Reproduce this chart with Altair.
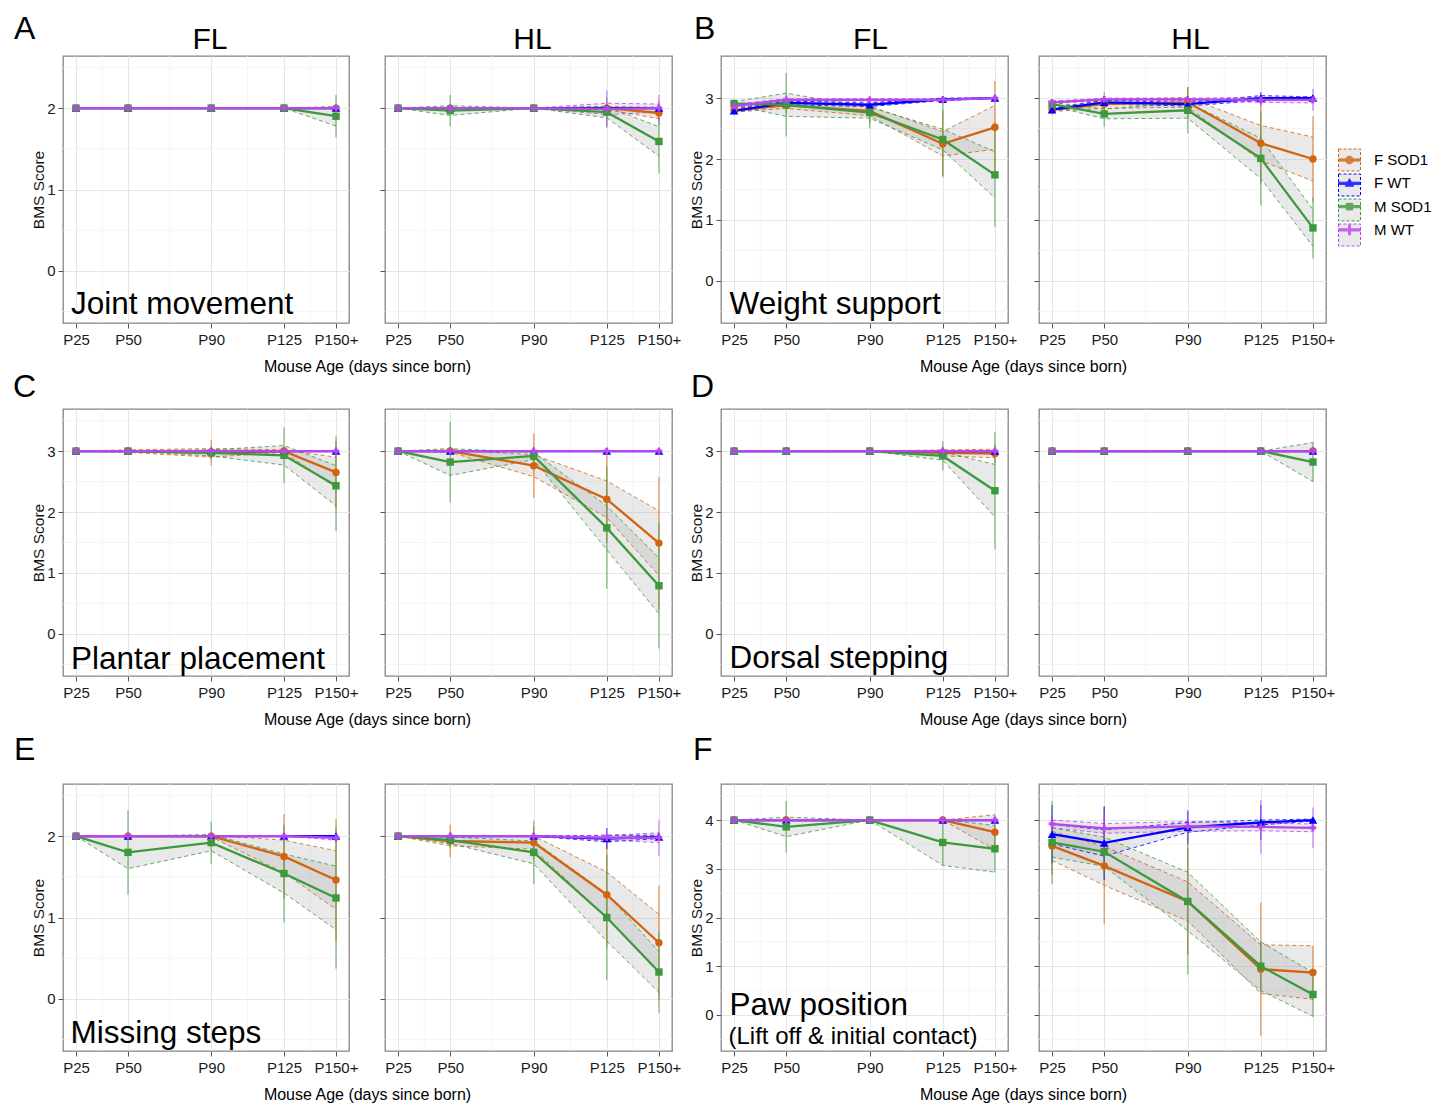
import altair as alt
import pandas as pd

FONT = "Liberation Sans"
DAYS = [25, 50, 90, 125, 150]
DAY_LABELS = ["P25", "P50", "P90", "P125", "P150+"]
X_MINOR = [37.5, 70, 107.5, 137.5]
X_DOM = [18.75, 156.25]
GROUPS = ["F SOD1", "F WT", "M SOD1", "M WT"]
GROUP_KEYS = ["a", "b", "c", "d"]
COLORS = ["#D2640F", "#0000FF", "#3C9A3C", "#B845F0"]
POINT_SHAPES = ["circle", "triangle-up", "square", "cross"]
POINT_SIZES = [55, 75, 55, 45]

# rows: F SOD1, F WT, M SOD1, M WT ; columns: P25, P50, P90, P125, P150+
MEAN_A_FL = [[2, 2, 2, 2, 2], [2, 2, 2, 2, 2], [2, 2, 2, 2, 1.90], [2, 2, 2, 2, 2]]
SE_A_FL = [[0, 0, 0, 0, 0], [0, 0, 0, 0, 0], [0, 0, 0, 0, 0.12], [0, 0, 0, 0, 0]]
SD_A_FL = [[0, 0, 0, 0, 0], [0, 0, 0, 0, 0], [0, 0, 0, 0, 0.26], [0, 0, 0, 0, 0]]

MEAN_A_HL = [[2, 2, 2, 2, 1.94], [2, 2, 2, 2, 2], [2, 1.97, 2, 1.95, 1.59], [2, 2, 2, 1.99, 2]]
SE_A_HL = [[0, 0, 0, 0.02, 0.07], [0, 0, 0, 0, 0], [0, 0.06, 0, 0.07, 0.18], [0, 0, 0, 0.07, 0.05]]
SD_A_HL = [[0, 0, 0, 0.05, 0.15], [0, 0, 0, 0, 0], [0, 0.19, 0, 0.18, 0.39], [0, 0, 0, 0.23, 0.16]]

MEAN_B_FL = [[2.80, 2.88, 2.79, 2.25, 2.52], [2.79, 2.92, 2.89, 2.98, 3.0], [2.91, 2.89, 2.76, 2.32, 1.74], [2.87, 2.97, 2.97, 2.97, 3.0]]
SE_B_FL = [[0.03, 0.05, 0.08, 0.2, 0.36], [0.02, 0.03, 0.03, 0.02, 0], [0.03, 0.19, 0.09, 0.17, 0.38], [0.03, 0.02, 0.02, 0.02, 0]]
SD_B_FL = [[0.08, 0.12, 0.2, 0.55, 0.76], [0.05, 0.08, 0.1, 0.05, 0], [0.07, 0.52, 0.26, 0.6, 0.86], [0.08, 0.05, 0.05, 0.05, 0]]

MEAN_B_HL = [[2.81, 2.90, 2.93, 2.26, 2.0], [2.81, 2.93, 2.90, 3.0, 3.0], [2.90, 2.74, 2.80, 2.01, 0.87], [2.93, 2.98, 2.98, 2.97, 2.97]]
SE_B_HL = [[0.03, 0.07, 0.08, 0.29, 0.36], [0.02, 0.03, 0.03, 0.04, 0.02], [0.03, 0.08, 0.13, 0.33, 0.3], [0.02, 0.02, 0.02, 0.04, 0.05]]
SD_B_HL = [[0.08, 0.2, 0.25, 0.66, 0.7], [0.05, 0.08, 0.08, 0.1, 0.05], [0.08, 0.21, 0.38, 0.77, 0.5], [0.05, 0.05, 0.05, 0.1, 0.18]]

MEAN_C_FL = [[3, 3, 2.97, 3.0, 2.65], [3, 3, 3, 3, 3], [3, 3, 2.97, 2.93, 2.43], [3, 3, 3, 3, 3]]
SE_C_FL = [[0, 0.02, 0.07, 0.02, 0.25], [0, 0, 0, 0, 0], [0, 0, 0.05, 0.16, 0.33], [0, 0, 0, 0, 0]]
SD_C_FL = [[0, 0.05, 0.21, 0.05, 0.6], [0, 0, 0, 0, 0], [0, 0, 0.1, 0.46, 0.74], [0, 0, 0, 0, 0]]

MEAN_C_HL = [[3, 3, 2.76, 2.21, 1.49], [3, 3, 3, 3, 3], [3, 2.82, 2.92, 1.74, 0.79], [3, 3, 3, 3, 3]]
SE_C_HL = [[0, 0.02, 0.18, 0.3, 0.53], [0, 0, 0, 0, 0], [0, 0.22, 0.06, 0.36, 0.46], [0, 0, 0, 0, 0]]
SD_C_HL = [[0, 0.05, 0.53, 0.72, 1.09], [0, 0, 0, 0, 0], [0, 0.66, 0.15, 1.0, 1.03], [0, 0, 0, 0, 0]]

MEAN_D_FL = [[3, 3, 3, 2.97, 2.96], [3, 3, 3, 3, 3], [3, 3, 3, 2.92, 2.35], [3, 3, 3, 3, 3]]
SE_D_FL = [[0, 0, 0, 0.05, 0.07], [0, 0, 0, 0, 0], [0, 0, 0, 0.07, 0.43], [0, 0, 0, 0, 0]]
SD_D_FL = [[0, 0, 0, 0.1, 0.15], [0, 0, 0, 0, 0], [0, 0, 0, 0.24, 0.96], [0, 0, 0, 0, 0]]

MEAN_D_HL = [[3, 3, 3, 3, 3], [3, 3, 3, 3, 3], [3, 3, 3, 3, 2.82], [3, 3, 3, 3, 3]]
SE_D_HL = [[0, 0, 0, 0, 0], [0, 0, 0, 0, 0], [0, 0, 0, 0, 0.32], [0, 0, 0, 0, 0]]
SD_D_HL = [[0, 0, 0, 0, 0], [0, 0, 0, 0, 0], [0, 0, 0, 0, 0.32], [0, 0, 0, 0, 0]]

MEAN_E_FL = [[2, 2, 2, 1.75, 1.46], [2, 2, 2, 2, 2], [2, 1.80, 1.92, 1.54, 1.24], [2, 2, 2, 2, 1.98]]
SE_E_FL = [[0, 0, 0.01, 0.2, 0.36], [0, 0, 0, 0, 0], [0, 0.2, 0.1, 0.24, 0.39], [0, 0, 0, 0, 0.03]]
SD_E_FL = [[0, 0, 0.02, 0.52, 0.75], [0, 0, 0, 0, 0], [0, 0.52, 0.26, 0.6, 0.87], [0, 0, 0, 0, 0.06]]

MEAN_E_HL = [[2, 1.94, 1.92, 1.28, 0.69], [2, 2, 2, 1.97, 1.99], [2, 1.95, 1.80, 1.0, 0.33], [2, 2, 2, 1.98, 1.98]]
SE_E_HL = [[0, 0.06, 0.08, 0.28, 0.35], [0, 0, 0, 0.04, 0.02], [0, 0.04, 0.14, 0.29, 0.25], [0, 0, 0, 0.03, 0.06]]
SD_E_HL = [[0, 0.2, 0.2, 0.65, 0.7], [0, 0, 0, 0.13, 0.05], [0, 0.1, 0.39, 0.77, 0.5], [0, 0, 0, 0.08, 0.22]]

MEAN_F_FL = [[4, 4, 4, 4, 3.75], [4, 4, 4, 4, 4], [4, 3.86, 4, 3.54, 3.41], [4, 4, 4, 4, 4]]
SE_F_FL = [[0, 0, 0, 0, 0.36], [0, 0, 0, 0, 0], [0, 0.2, 0, 0.47, 0.48], [0, 0, 0, 0, 0]]
SD_F_FL = [[0, 0, 0, 0, 0.36], [0, 0, 0, 0, 0], [0, 0.53, 0, 0.47, 0.48], [0, 0, 0, 0, 0]]

MEAN_F_HL = [[3.47, 3.06, 2.33, 0.94, 0.87], [3.71, 3.53, 3.85, 3.95, 4.0], [3.54, 3.35, 2.33, 1.0, 0.42], [3.92, 3.83, 3.87, 3.86, 3.84]]
SE_F_HL = [[0.3, 0.4, 0.4, 0.5, 0.55], [0.2, 0.27, 0.1, 0.05, 0.02], [0.3, 0.3, 0.6, 0.5, 0.45], [0.08, 0.1, 0.1, 0.08, 0.08]]
SD_F_HL = [[0.6, 1.2, 1.1, 1.37, 0.55], [0.6, 0.76, 0.35, 0.36, 0.05], [0.85, 0.5, 1.5, 0.5, 0.45], [0.2, 0.3, 0.3, 0.55, 0.42]]

Y_DOM_2 = [-0.64, 2.64]
Y_DOM_3 = [-0.69, 3.69]
Y_DOM_4 = [-0.74, 4.74]
Y_TICKS_2 = [0, 1, 2]
Y_TICKS_3 = [0, 1, 2, 3]
Y_TICKS_4 = [0, 1, 2, 3, 4]
Y_MINOR_2 = [-0.5, 0.5, 1.5, 2.5]
Y_MINOR_3 = [-0.5, 0.5, 1.5, 2.5, 3.5]
Y_MINOR_4 = [-0.5, 0.5, 1.5, 2.5, 3.5, 4.5]

# legend symbols: line through + marker (unit square, filled)
BAR = "M-1,-0.1L1,-0.1L1,0.1L-1,0.1Z"
LEGEND_PATHS = [
    BAR + "M-0.35,0A0.35,0.35,0,1,1,0.35,0A0.35,0.35,0,1,1,-0.35,0Z",
    BAR + "M0,-0.42L0.38,0.26L-0.38,0.26Z",
    BAR + "M-0.3,-0.3L0.3,-0.3L0.3,0.3L-0.3,0.3Z",
    BAR + "M-0.09,-0.45L0.09,-0.45L0.09,0.45L-0.09,0.45Z",
]

W_FL, W_HL, H = 286, 287, 267
GAPS = [36, 49, 31]
ROW_GAPS = [86, 108]
LEG_X, LEG_Y = 1275, 92.5

LABEL_EXPR = " : ".join(f"datum.value == {d} ? '{l}'" for d, l in zip(DAYS, DAY_LABELS)) + " : ''"


def build_df(mean, se, sd):
    rows = []
    for gi, g in enumerate(GROUPS):
        for di, d in enumerate(DAYS):
            m, s, e = mean[gi][di], se[gi][di], sd[gi][di]
            rows.append({"day": d, "grp": g, "grp2": GROUP_KEYS[gi], "mean": m,
                         "lo_se": m - s, "hi_se": m + s, "lo_sd": m - e, "hi_sd": m + e})
    return pd.DataFrame(rows)


def text_layer(txt, px, py, size, align="left"):
    return alt.Chart(pd.DataFrame({"t": [txt]})).mark_text(
        align=align, baseline="alphabetic", fontSize=size, font=FONT, color="black"
    ).encode(text="t:N", x=alt.value(px), y=alt.value(py))


def panel(mean, se, sd, ydom, yticks, yminor, fl, width, texts, legend=False):
    df = build_df(mean, se, sd)
    xs = alt.Scale(domain=X_DOM, nice=False, zero=False)
    ys = alt.Scale(domain=ydom, nice=False, zero=False)
    cs = alt.Scale(domain=GROUPS, range=COLORS)
    if fl:
        yaxis = alt.Axis(values=yticks, format="d", grid=True, title="BMS Score")
    else:
        yaxis = alt.Axis(values=yticks, format="d", grid=True, labels=False, title=None)
    xaxis = alt.Axis(values=DAYS, labelExpr=LABEL_EXPR, grid=True, title=None,
                     labelOverlap=False, labelFlush=False)

    def X(f="day"):
        return alt.X(f"{f}:Q", scale=xs, axis=xaxis)

    def Y(f):
        return alt.Y(f"{f}:Q", scale=ys, axis=yaxis)

    layers = []
    layers.append(alt.Chart(pd.DataFrame({"gx": X_MINOR})).mark_rule(color="#f1f1f1", strokeWidth=0.7)
                  .encode(x=X("gx")))
    layers.append(alt.Chart(pd.DataFrame({"gy": yminor})).mark_rule(color="#f1f1f1", strokeWidth=0.7)
                  .encode(y=Y("gy")))

    base = alt.Chart(df)
    col = alt.Color("grp:N", scale=cs)

    layers.append(base.mark_area(color="#9a9a9a", opacity=0.22).encode(
        x=X(), y=Y("lo_se"), y2="hi_se:Q", detail="grp:N"))
    for fld in ["lo_se", "hi_se"]:
        layers.append(base.mark_line(strokeDash=[4, 3], strokeWidth=1, opacity=0.8).encode(
            x=X(), y=Y(fld), color=col, detail="grp:N"))
    layers.append(base.mark_rule(strokeWidth=1.5, opacity=0.55).encode(
        x=X(), y=Y("lo_sd"), y2="hi_sd:Q", color=col))
    for g in GROUPS:
        layers.append(base.transform_filter(alt.datum.grp == g).mark_line(strokeWidth=2.3).encode(
            x=X(), y=Y("mean"), color=col))
    for g, shp, sz in zip(GROUPS, POINT_SHAPES, POINT_SIZES):
        layers.append(base.transform_filter(alt.datum.grp == g).mark_point(
            filled=True, shape=shp, size=sz, opacity=1).encode(
            x=X(), y=Y("mean"), color=col))

    if legend:
        leg1 = alt.Legend(title=None, orient="none", legendX=LEG_X, legendY=LEG_Y,
                          symbolSize=484, symbolOpacity=1, symbolStrokeWidth=1,
                          labelFont=FONT, labelFontSize=15,
                          labelColor="black", labelOffset=13, rowPadding=3.3, padding=0, zindex=2)
        leg2 = alt.Legend(title=None, orient="none", legendX=LEG_X, legendY=LEG_Y,
                          symbolType="square", symbolSize=484, symbolOpacity=1,
                          symbolDash=[3, 2], symbolStrokeWidth=1, labelExpr="''",
                          labelFontSize=15, rowPadding=-4.7, padding=0, zindex=1)
        layers.append(base.mark_point(filled=True, opacity=0).encode(
            x=X(), y=Y("mean"),
            color=alt.Color("grp:N", scale=cs, legend=leg1),
            shape=alt.Shape("grp:N", scale=alt.Scale(domain=GROUPS, range=LEGEND_PATHS), legend=leg1)))
        layers.append(base.mark_point(filled=True, fill="#e9e9e9", opacity=0).encode(
            x=X(), y=Y("mean"),
            stroke=alt.Stroke("grp2:N", scale=alt.Scale(domain=GROUP_KEYS, range=COLORS), legend=leg2)))

    for t in texts:
        layers.append(text_layer(*t))
    return alt.layer(*layers).properties(width=width, height=H)


def spacer(w, h):
    return alt.Chart(pd.DataFrame({"v": [0]})).mark_point(opacity=0).encode(
        x=alt.value(0), y=alt.value(0)).properties(width=w, height=h, view=alt.ViewBackground(strokeOpacity=0))


XT_A = (W_FL + GAPS[0] + W_HL) / 2
XT_B = (W_HL + GAPS[2] + W_HL) / 2
XT_Y = 316
XT_SIZE = 16
AGE = "Mouse Age (days since born)"

A_FL = panel(MEAN_A_FL, SE_A_FL, SD_A_FL, Y_DOM_2, Y_TICKS_2, Y_MINOR_2, True, W_FL, [
    ("A", -49, -17, 32), ("FL", W_FL / 2 + 4, -7, 30, "center"), ("Joint movement", 8, 258, 31.5),
    (AGE, XT_A, XT_Y, XT_SIZE, "center")])
A_HL = panel(MEAN_A_HL, SE_A_HL, SD_A_HL, Y_DOM_2, Y_TICKS_2, Y_MINOR_2, False, W_HL, [
    ("HL", W_HL / 2 + 4, -7, 30, "center")])
B_FL = panel(MEAN_B_FL, SE_B_FL, SD_B_FL, Y_DOM_3, Y_TICKS_3, Y_MINOR_3, True, W_HL, [
    ("B", -27, -17, 32), ("FL", W_HL / 2 + 6, -7, 30, "center"), ("Weight support", 8.5, 258, 31.5),
    (AGE, XT_B, XT_Y, XT_SIZE, "center")])
B_HL = panel(MEAN_B_HL, SE_B_HL, SD_B_HL, Y_DOM_3, Y_TICKS_3, Y_MINOR_3, False, W_HL, [
    ("HL", W_HL / 2 + 8, -7, 30, "center")], legend=True)

C_FL = panel(MEAN_C_FL, SE_C_FL, SD_C_FL, Y_DOM_3, Y_TICKS_3, Y_MINOR_3, True, W_FL, [
    ("C", -50, -12, 32), ("Plantar placement", 8, 260, 31.5),
    (AGE, XT_A, XT_Y, XT_SIZE, "center")])
C_HL = panel(MEAN_C_HL, SE_C_HL, SD_C_HL, Y_DOM_3, Y_TICKS_3, Y_MINOR_3, False, W_HL, [])
D_FL = panel(MEAN_D_FL, SE_D_FL, SD_D_FL, Y_DOM_3, Y_TICKS_3, Y_MINOR_3, True, W_HL, [
    ("D", -30, -12, 32), ("Dorsal stepping", 8.5, 259, 31.5),
    (AGE, XT_B, XT_Y, XT_SIZE, "center")])
D_HL = panel(MEAN_D_HL, SE_D_HL, SD_D_HL, Y_DOM_3, Y_TICKS_3, Y_MINOR_3, False, W_HL, [])

E_FL = panel(MEAN_E_FL, SE_E_FL, SD_E_FL, Y_DOM_2, Y_TICKS_2, Y_MINOR_2, True, W_FL, [
    ("E", -49, -24, 32), ("Missing steps", 7.5, 259, 31.5),
    (AGE, XT_A, XT_Y, XT_SIZE, "center")])
E_HL = panel(MEAN_E_HL, SE_E_HL, SD_E_HL, Y_DOM_2, Y_TICKS_2, Y_MINOR_2, False, W_HL, [])
F_FL = panel(MEAN_F_FL, SE_F_FL, SD_F_FL, Y_DOM_4, Y_TICKS_4, Y_MINOR_4, True, W_HL, [
    ("F", -28, -24, 32), ("Paw position", 8.5, 231, 31.5),
    ("(Lift off & initial contact)", 7.5, 260, 24),
    (AGE, XT_B, XT_Y, XT_SIZE, "center")])
F_HL = panel(MEAN_F_HL, SE_F_HL, SD_F_HL, Y_DOM_4, Y_TICKS_4, Y_MINOR_4, False, W_HL, [])


def row(cells):
    return [cells[0], spacer(GAPS[0], H), cells[1], spacer(GAPS[1], H),
            cells[2], spacer(GAPS[2], H), cells[3]]


def gap_row(h):
    return [spacer(1, h) for _ in range(7)]


cells = (row([A_FL, A_HL, B_FL, B_HL]) + gap_row(ROW_GAPS[0]) +
         row([C_FL, C_HL, D_FL, D_HL]) + gap_row(ROW_GAPS[1]) +
         row([E_FL, E_HL, F_FL, F_HL]))

chart = alt.concat(*cells, columns=7, spacing=0, bounds="flush", align="each").properties(
    padding={"left": 4, "top": 4, "right": 5, "bottom": 5}
).configure(font=FONT, background="white").configure_view(
    stroke="#858585", strokeWidth=1.3
).configure_axis(
    labelFont=FONT, labelFontSize=15, labelColor="#1a1a1a", tickColor="#555555", tickSize=5,
    tickWidth=1, domain=False, gridColor="#e6e6e6", gridWidth=1, titleFont=FONT,
    titleFontSize=15.5, titleFontWeight="normal", titleColor="#111111", titlePadding=0, labelPadding=3
).configure_axisX(labelPadding=4)

chart.save("out.html", embed_options={"renderer": "svg", "actions": False})
